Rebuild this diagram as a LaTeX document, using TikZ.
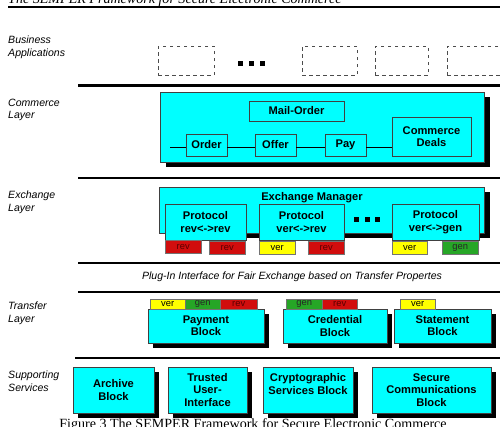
\documentclass[tikz,border=0pt]{standalone}
\usepackage{fontspec}
\setmainfont{Liberation Serif}
\setsansfont{Liberation Sans}
\usetikzlibrary{shadows}
\definecolor{semcyan}{rgb}{0,1,1}
\definecolor{tagred}{rgb}{0.82,0.05,0.05}
\definecolor{tagyellow}{rgb}{1,1,0}
\definecolor{taggreen}{rgb}{0.15,0.65,0.15}
\tikzset{
  dims/.style 2 args={minimum width=#1*0.03cm, minimum height=#2*0.03cm},
  layer/.style={
    anchor=north west,
    align=left,
    inner sep=0pt,
    font=\fontsize{9}{10.5}\selectfont\sffamily\itshape
  },
  appbox/.style={
    draw=black!70,
    dash pattern=on 0.11cm off 0.1cm,
    anchor=north west,
    inner sep=0pt
  },
  cmbox/.style={
    draw=black!75,
    fill=semcyan,
    anchor=north west,
    inner sep=0pt,
    outer sep=0pt,
    align=center,
    font=\fontsize{9.5}{10.5}\selectfont\sffamily\bfseries
  },
  bigshadow/.style={drop shadow={shadow xshift=0.18cm,shadow yshift=-0.15cm,fill=black,opacity=1}},
  smallshadow/.style={drop shadow={shadow xshift=0.14cm,shadow yshift=-0.14cm,fill=black,opacity=1}},
  tagbox/.style={
    draw=black!55,
    anchor=north west,
    inner sep=0pt,
    font=\fontsize{8}{8}\selectfont\sffamily
  },
  revtag/.style={tagbox, fill=tagred, text=red!35!black},
  vertag/.style={tagbox, fill=tagyellow},
  gentag/.style={tagbox, fill=taggreen, text=black!85},
  sepline/.style={line width=1pt}
}
\begin{document}
\begin{tikzpicture}[x=0.03cm, y=-0.03cm]
\useasboundingbox (0,0) rectangle (500,427);
\clip (0,0) rectangle (500,427);
% page header and caption
\node[anchor=base west, inner sep=0pt, font=\fontsize{12}{14}\selectfont\itshape] (head) at (8,3.5) {The SEMPER Framework for Secure Electronic Commerce};
\draw[line width=1pt] (8,7) -- (500,7);
\node[anchor=base, inner sep=0pt, font=\fontsize{12}{14}\selectfont] (caption) at (253,428) {Figure 3 The SEMPER Framework for Secure Electronic Commerce};
% layer names
\node[layer] (lbiz) at (8,36) {Business\\Applications};
\node[layer] (lcom) at (8,99) {Commerce\\Layer};
\node[layer] (lexc) at (8,191) {Exchange\\Layer};
\node[layer] (ltra) at (8,302) {Transfer\\Layer};
\node[layer] (lsup) at (8,371) {Supporting\\Services};
% business applications
\node[appbox, dims={56}{29}] (app1) at (158,46) {};
\node[appbox, dims={55}{29}] (app2) at (302,46) {};
\node[appbox, dims={53}{29}] (app3) at (375,46) {};
\node[appbox, dims={60}{29}] (app4) at (447,46) {};
\foreach \x in {240.5,251.5,262.5}
  \fill (\x-2.3,60.7) rectangle (\x+2.3,65.7);
\draw[line width=0.09cm] (78,86) -- (500,86);
% commerce layer
\node[cmbox, bigshadow, dims={324}{70}] (commerce) at (160,92) {};
\node[cmbox, dims={95}{20}] (mail) at (249,101) {Mail-Order};
\node[cmbox, dims={41}{22}] (order) at (186,134) {Order};
\node[cmbox, dims={41}{22}] (offer) at (255,134) {Offer};
\node[cmbox, dims={41}{22}] (pay) at (325,134) {Pay};
\node[cmbox, dims={79}{39}] (deals) at (392,117) {Commerce\\Deals};
\coordinate (cin) at (170,147);
\draw (cin) -- (cin -| order.west)
  (order.east |- cin) -- (cin -| offer.west)
  (offer.east |- cin) -- (cin -| pay.west)
  (pay.east |- cin) -- (cin -| deals.west);
% exchange layer
\draw[sepline] (78,178) -- (500,178);
\node[cmbox, bigshadow, dims={325}{46}] (exman) at (159,187) {};
\node[anchor=north, inner sep=0pt, font=\fontsize{9.5}{10.5}\selectfont\sffamily\bfseries] (exlabel) at (312,192) {Exchange Manager};
\node[cmbox, dims={81}{36}] (prot1) at (165,204) {Protocol\\rev<->rev};
\node[cmbox, dims={85}{36}] (prot2) at (259,204) {Protocol\\ver<->rev};
\node[cmbox, dims={87}{36}] (prot3) at (392,204) {Protocol\\ver<->gen};
\node[revtag, dims={36}{13}] (t1a) at (165,240) {rev};
\node[revtag, dims={36}{13}] (t1b) at (209,241) {rev};
\node[vertag, dims={36}{13}] (t2a) at (259,241) {ver};
\node[revtag, dims={36}{13}] (t2b) at (308,241) {rev};
\node[vertag, dims={35}{13}] (t3a) at (392,241) {ver};
\node[gentag, dims={36}{13}] (t3b) at (442,241) {gen};
\foreach \x in {356.5,367,377.5}
  \fill (\x-2.5,217) rectangle (\x+2.5,222);
\draw[sepline] (78,263) -- (500,263);
\node[inner sep=0pt, font=\fontsize{9}{10}\selectfont\sffamily\itshape] (plugin) at (292,277) {Plug-In Interface for Fair Exchange based on Transfer Propertes};
\draw[sepline] (78,292) -- (500,292);
% transfer layer
\node[cmbox, smallshadow, dims={116}{34}] (payment) at (148,309) {Payment\\Block};
\node[vertag, dims={35}{10}] (pver) at (150,299) {ver};
\node[gentag, dims={35}{10}] (pgen) at (185,299) {gen};
\node[revtag, dims={37}{10}] (prev) at (220,299) {rev};
\node[cmbox, smallshadow, dims={104}{34}] (credential) at (283,309) {Credential\\Block};
\node[gentag, dims={36}{10}] (cgen) at (286,299) {gen};
\node[revtag, dims={35}{10}] (crev) at (322,299) {rev};
\node[cmbox, smallshadow, dims={97}{34}] (statement) at (394,309) {Statement\\Block};
\node[vertag, dims={35}{10}] (sver) at (400,299) {ver};
% supporting services
\draw[sepline] (75,358) -- (500,358);
\node[cmbox, smallshadow, dims={81}{46}] (archive) at (73,367) {Archive\\Block};
\node[cmbox, smallshadow, dims={79}{46}] (trusted) at (168,367) {Trusted\\User-\\Interface};
\node[cmbox, smallshadow, dims={90}{46}] (crypto) at (263,367) {Cryptographic\\Services Block\\\mbox{}};
\node[cmbox, smallshadow, dims={119}{46}] (securecom) at (372,367) {Secure\\Communications\\Block};
\end{tikzpicture}
\end{document}
